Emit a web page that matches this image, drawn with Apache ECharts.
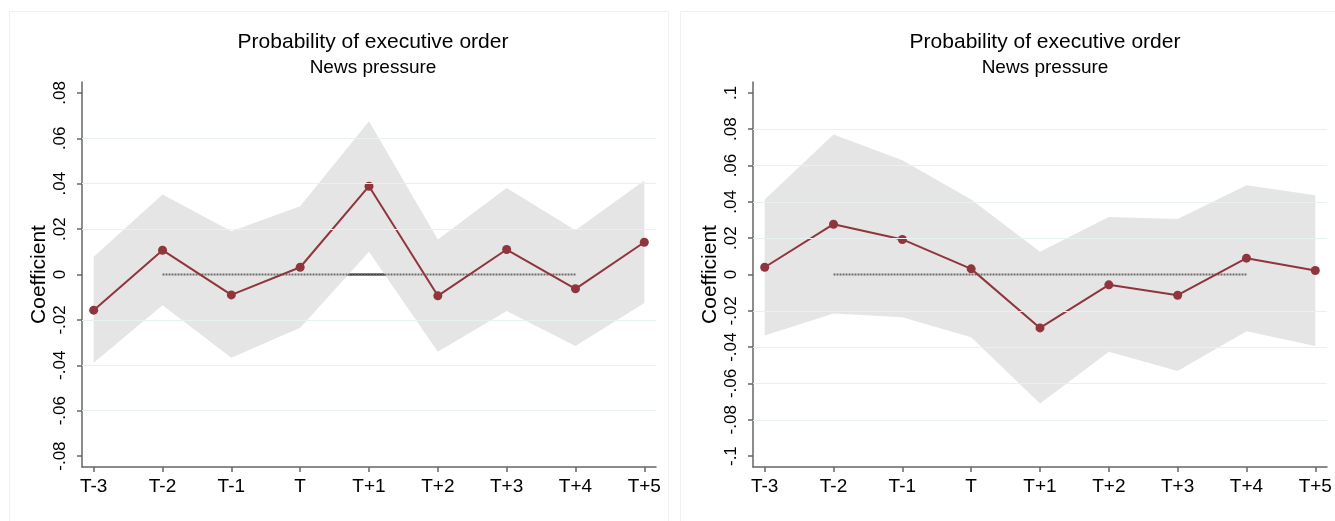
<!DOCTYPE html>
<html>
<head>
<meta charset="utf-8">
<script src="https://cdn.jsdelivr.net/npm/echarts@6/dist/echarts.min.js"></script>
<style>
html,body{margin:0;padding:0;background:#fff;}
#chart{width:1335px;height:521px;}
</style>
</head>
<body>
<div id="chart"></div>
<script>
// ---- data ----
const periodLabels = ['T-3','T-2','T-1','T','T+1','T+2','T+3','T+4','T+5'];
const periodOffset = 3; // T-3 is position -3

const leftCoef  = [-0.0157, 0.0107, -0.0090, 0.0032, 0.0389, -0.0094, 0.0110, -0.0063, 0.0142];
const leftUpper = [ 0.0078, 0.0352,  0.0191, 0.0301, 0.0675,  0.0154, 0.0381,  0.0195, 0.0414];
const leftLower = [-0.0389,-0.0136, -0.0367,-0.0235, 0.0100, -0.0340,-0.0161, -0.0315,-0.0125];

const rightCoef  = [ 0.0040, 0.0277, 0.0193, 0.0031, -0.0294, -0.0057, -0.0114, 0.0090, 0.0022];
const rightUpper = [ 0.0413, 0.0771, 0.0629, 0.0413,  0.0125,  0.0316,  0.0306, 0.0492, 0.0437];
const rightLower = [-0.0336,-0.0215,-0.0235,-0.0345, -0.0710, -0.0426, -0.0532,-0.0312,-0.0394];

const leftYTicks  = [-0.08,-0.06,-0.04,-0.02,0,0.02,0.04,0.06,0.08];
const rightYTicks = [-0.1,-0.08,-0.06,-0.04,-0.02,0,0.02,0.04,0.06,0.08,0.1];
const leftGridVals  = [-0.06,-0.04,-0.02,0.02,0.04,0.06];
const rightGridVals = [-0.08,-0.06,-0.04,-0.02,0.02,0.04,0.06,0.08];

const refLineFrom = 'T-2';
const refLineTo   = 'T+4';
const titleText = 'Probability of executive order';
const subtitleText = 'News pressure';
const yName = 'Coefficient';

// ---- helpers ----
const pos = lbl => periodLabels.indexOf(lbl) - periodOffset;
const xTicks = periodLabels.map((l,i) => i - periodOffset);
const pts = arr => arr.map((v,i) => [i - periodOffset, v]);
function stataFmt(v){
  let r = Math.round(v*1000)/1000;
  if (r === 0) return '0';
  let s = String(r);
  s = s.replace(/^0\./,'.').replace(/^-0\./,'-.');
  return s;
}
const FONT = '"Liberation Sans", Arial, sans-serif';
const AX = '#666666';
const RED = '#90353B';
const BAND = '#e5e5e5';

function xAxisCfg(gi, min, max){
  return {
    type:'value', gridIndex:gi, min:min, max:max,
    axisLine:{show:true, onZero:false, lineStyle:{color:AX, width:1.5}},
    axisTick:{show:true, length:5, lineStyle:{color:AX, width:1.5}, customValues:xTicks},
    axisLabel:{customValues:xTicks, formatter:v => periodLabels[Math.round(v)+periodOffset],
      fontFamily:FONT, fontSize:19, color:'#000', margin:10},
    splitLine:{show:false}
  };
}
function yAxisCfg(gi, min, max, ticks){
  return {
    type:'value', gridIndex:gi, min:min, max:max,
    name:yName, nameLocation:'middle', nameGap:32,
    nameTextStyle:{fontFamily:FONT, fontSize:21, color:'#000'},
    axisLine:{show:true, onZero:false, lineStyle:{color:AX, width:1.5}},
    axisTick:{show:true, length:5, lineStyle:{color:AX, width:1.5}, customValues:ticks},
    axisLabel:{customValues:ticks, formatter:stataFmt, rotate:90,
      fontFamily:FONT, fontSize:17, color:'#000', margin:13},
    splitLine:{show:false}
  };
}
function bandSeries(idx, upper, lower){
  return {
    type:'custom', xAxisIndex:idx, yAxisIndex:idx, z:2, silent:true,
    data:[[0,0]],
    renderItem:function(params, api){
      const top = upper.map((v,i)=>api.coord([i-periodOffset, v]));
      const bot = lower.map((v,i)=>api.coord([i-periodOffset, v])).reverse();
      return {type:'polygon', shape:{points:top.concat(bot)}, style:{fill:BAND}};
    }
  };
}
function panelSeries(idx, coef, upper, lower, gridVals){
  const ref = [[pos(refLineFrom),0],[pos(refLineTo),0]];
  return [
    { // gridlines
      type:'line', xAxisIndex:idx, yAxisIndex:idx, data:[], z:0, silent:true,
      markLine:{silent:true, symbol:['none','none'], label:{show:false},
        lineStyle:{color:'#e8f0f2', width:1, type:'solid'},
        data:gridVals.map(v=>({yAxis:v}))}
    },
    { // reference line under band
      type:'line', xAxisIndex:idx, yAxisIndex:idx, data:ref, z:1, silent:true,
      symbol:'none', lineStyle:{color:'#1a1a1a', width:2}
    },
    bandSeries(idx, upper, lower),
    { // reference line over band (shows as dotted gray)
      type:'line', xAxisIndex:idx, yAxisIndex:idx, data:ref, z:3, silent:true,
      symbol:'none', lineStyle:{color:'#6e6e6e', width:2, type:[2,1]}
    },
    {
      type:'line', xAxisIndex:idx, yAxisIndex:idx, data:pts(coef), z:4, silent:true,
      symbol:'circle', symbolSize:9, showSymbol:true,
      itemStyle:{color:RED, borderWidth:0}, lineStyle:{color:RED, width:2},
      emphasis:{disabled:true}
    }
  ];
}

const chart = echarts.init(document.getElementById('chart'), null, {renderer:'canvas'});
chart.setOption({
  animation:false,
  backgroundColor:'#ffffff',
  graphic:[
    {type:'rect', shape:{x:9.5, y:11.5, width:659, height:520}, style:{fill:'none', stroke:'#eef1f1', lineWidth:1}, silent:true},
    {type:'rect', shape:{x:680.5, y:11.5, width:660, height:520}, style:{fill:'none', stroke:'#eef1f1', lineWidth:1}, silent:true}
  ],
  title:[
    {text:titleText, subtext:subtitleText, left:368, top:27, textAlign:'center', itemGap:5,
     textStyle:{fontFamily:FONT, fontSize:21, fontWeight:'normal', color:'#000'},
     subtextStyle:{fontFamily:FONT, fontSize:19, color:'#000'}},
    {text:titleText, subtext:subtitleText, left:1040, top:27, textAlign:'center', itemGap:5,
     textStyle:{fontFamily:FONT, fontSize:21, fontWeight:'normal', color:'#000'},
     subtextStyle:{fontFamily:FONT, fontSize:19, color:'#000'}}
  ],
  grid:[
    {left:82, right:1335-656, top:82, bottom:521-467},
    {left:753, right:1335-1327, top:82, bottom:521-467}
  ],
  xAxis:[ xAxisCfg(0, -3.17, 5.17), xAxisCfg(1, -3.17, 5.17) ],
  yAxis:[ yAxisCfg(0, -0.0848, 0.0848, leftYTicks), yAxisCfg(1, -0.106, 0.106, rightYTicks) ],
  series:[].concat(
    panelSeries(0, leftCoef, leftUpper, leftLower, leftGridVals),
    panelSeries(1, rightCoef, rightUpper, rightLower, rightGridVals)
  )
});
</script>
</body>
</html>
